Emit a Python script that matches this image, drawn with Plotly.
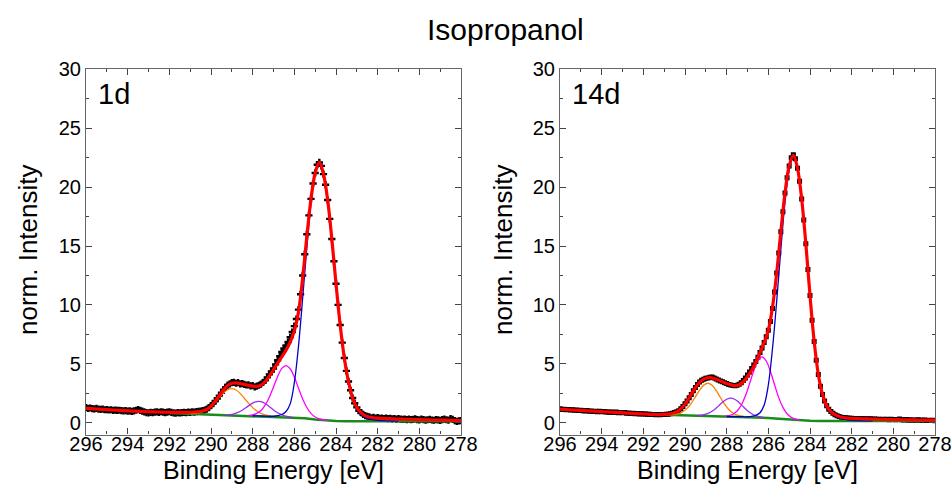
import plotly.graph_objects as go

# ---------------- data ----------------
energy_start = 296.0
energy_step = 0.1
fit_step = 0.2

data_1d = [
    1.28, 1.22, 1.25, 1.20, 1.18, 1.22, 1.15, 1.13, 1.16, 1.10,
    1.12, 1.08, 1.10, 1.05, 1.07, 1.04, 1.06, 1.02, 1.00, 1.03,
    0.98, 1.01, 0.97, 1.00, 1.06, 1.12, 1.05, 0.98, 0.92, 0.86,
    0.84, 0.88, 0.85, 0.90, 0.92, 0.87, 0.93, 0.90, 0.86, 0.90,
    0.93, 0.88, 0.84, 0.82, 0.86, 0.83, 0.85, 0.88, 0.86, 0.90,
    0.88, 0.92, 0.90, 0.94, 0.97, 0.99, 1.02, 1.08, 1.15, 1.28,
    1.45, 1.62, 1.85, 2.05, 2.30, 2.55, 2.80, 3.00, 3.20, 3.30,
    3.40, 3.42, 3.35, 3.40, 3.30, 3.32, 3.25, 3.20, 3.22, 3.12,
    3.15, 3.05, 3.10, 3.18, 3.28, 3.42, 3.60, 3.85, 4.10, 4.35,
    4.60, 4.95, 5.30, 5.65, 6.00, 6.30, 6.55, 6.85, 7.25, 7.70,
    8.20, 8.80, 9.60, 10.9, 12.5, 14.3, 16.0, 17.6, 19.0, 20.3,
    21.2, 21.9, 22.1, 21.8, 21.1, 20.2, 18.9, 17.3, 15.6, 13.7,
    11.8, 10.0, 8.3, 6.8, 5.5, 4.4, 3.5, 2.75, 2.1, 1.65,
    1.30, 1.02, 0.85, 0.70, 0.60, 0.55, 0.50, 0.42, 0.45, 0.40,
    0.43, 0.38, 0.40, 0.36, 0.39, 0.35, 0.37, 0.33, 0.36, 0.30,
    0.34, 0.31, 0.28, 0.30, 0.27, 0.31, 0.26, 0.29, 0.32, 0.27,
    0.24, 0.30, 0.26, 0.22, 0.25, 0.28, 0.23, 0.21, 0.26, 0.24,
    0.20, 0.27, 0.30, 0.25, 0.22, 0.35, 0.28, 0.18, 0.12, 0.15,
    0.18,
]

fit_1d = [
    1.22, 1.20, 1.18, 1.15, 1.13, 1.11, 1.09, 1.07, 1.05, 1.03,
    1.01, 0.99, 0.98, 0.96, 0.94, 0.93, 0.92, 0.91, 0.90, 0.89,
    0.89, 0.88, 0.88, 0.88, 0.88, 0.89, 0.91, 0.94, 1.00, 1.12,
    1.40, 1.82, 2.30, 2.78, 3.15, 3.35, 3.38, 3.33, 3.25, 3.17,
    3.10, 3.08, 3.20, 3.50, 3.95, 4.50, 5.05, 5.60, 6.15, 6.85,
    7.80, 9.40, 12.3, 15.8, 19.0, 21.2, 22.1, 21.1, 18.9, 15.6,
    11.8, 8.3, 5.5, 3.5, 2.1, 1.3, 0.85, 0.60, 0.48, 0.42,
    0.39, 0.37, 0.35, 0.34, 0.32, 0.31, 0.30, 0.29, 0.28, 0.27,
    0.26, 0.25, 0.24, 0.23, 0.23, 0.22, 0.22, 0.21, 0.20, 0.19,
    0.18,
]

orange_1d_start = 291.0
orange_1d = [0.77, 0.79, 0.84, 0.94, 1.12, 1.38, 1.74, 2.14, 2.52, 2.80, 2.89,
             2.78, 2.48, 2.08, 1.66, 1.28, 0.99, 0.78, 0.66, 0.58, 0.54]
violet_1d_start = 289.3
violet_1d = [0.67, 0.69, 0.75, 0.87, 1.06, 1.30, 1.56, 1.75, 1.82, 1.73, 1.51,
             1.22, 0.95, 0.75, 0.60, 0.51, 0.46]
magenta_1d_start = 288.2
magenta_1d = [0.63, 0.67, 0.79, 1.04, 1.49, 2.16, 3.04, 3.93, 4.61, 4.85, 4.58,
              3.87, 2.93, 2.01, 1.29, 0.79, 0.49, 0.33, 0.25, 0.19]
blue_1d_start = 288.0
blue_1d = [0.59, 0.58, 0.57, 0.56, 0.55, 0.55, 0.60, 0.70, 0.95, 1.6, 3.4, 6.5,
           10.6, 14.8, 18.6, 21.1, 22.0, 20.9, 18.7, 15.4, 11.6, 8.1, 5.3, 3.3,
           1.95, 1.15, 0.70, 0.45, 0.32, 0.24, 0.20, 0.18, 0.16, 0.15, 0.14, 0.14]
bg_1d_x = [292.0, 291.0, 290.0, 289.0, 288.0, 287.0, 286.0, 285.5, 285.0, 284.5, 284.0, 283.5, 283.0, 278.0]
bg_1d = [0.82, 0.75, 0.69, 0.64, 0.59, 0.52, 0.44, 0.37, 0.28, 0.20, 0.15, 0.13, 0.13, 0.13]

data_14d = [
    1.18, 1.12, 1.15, 1.10, 1.12, 1.08, 1.10, 1.05, 1.07, 1.03,
    1.06, 1.02, 1.00, 1.03, 0.98, 1.00, 0.96, 0.98, 0.94, 0.97,
    0.93, 0.95, 0.90, 0.92, 0.89, 0.91, 0.87, 0.90, 0.85, 0.87,
    0.84, 0.86, 0.81, 0.83, 0.79, 0.81, 0.77, 0.79, 0.75, 0.77,
    0.73, 0.74, 0.71, 0.72, 0.69, 0.70, 0.67, 0.69, 0.68, 0.70,
    0.69, 0.71, 0.72, 0.76, 0.80, 0.86, 0.93, 1.02, 1.18, 1.38,
    1.60, 1.85, 2.12, 2.40, 2.72, 3.00, 3.25, 3.45, 3.60, 3.68,
    3.78, 3.80, 3.85, 3.88, 3.80, 3.72, 3.62, 3.55, 3.48, 3.40,
    3.33, 3.25, 3.20, 3.15, 3.14, 3.18, 3.26, 3.40, 3.58, 3.80,
    4.05, 4.30, 4.60, 4.90, 5.20, 5.55, 5.95, 6.35, 6.80, 7.30,
    7.85, 8.60, 9.70, 11.1, 12.7, 14.4, 16.2, 17.9, 19.5, 20.8,
    21.8, 22.5, 22.75, 22.4, 21.6, 20.5, 19.0, 17.2, 15.2, 13.0,
    10.8, 8.7, 6.9, 5.3, 4.1, 3.1, 2.4, 1.85, 1.45, 1.15,
    0.95, 0.80, 0.68, 0.60, 0.52, 0.47, 0.44, 0.42, 0.40, 0.38,
    0.37, 0.36, 0.34, 0.36, 0.33, 0.35, 0.32, 0.34, 0.31, 0.33,
    0.30, 0.32, 0.29, 0.30, 0.28, 0.30, 0.27, 0.29, 0.26, 0.30,
    0.27, 0.25, 0.28, 0.31, 0.26, 0.24, 0.27, 0.22, 0.25, 0.20,
    0.23, 0.21, 0.25, 0.22, 0.20, 0.23, 0.19, 0.21, 0.18, 0.20,
    0.17,
]

fit_14d = [
    1.15, 1.13, 1.10, 1.08, 1.06, 1.04, 1.02, 1.00, 0.98, 0.96,
    0.94, 0.92, 0.90, 0.88, 0.86, 0.84, 0.82, 0.80, 0.78, 0.76,
    0.74, 0.72, 0.70, 0.69, 0.69, 0.70, 0.73, 0.80, 0.92, 1.17,
    1.58, 2.12, 2.70, 3.22, 3.58, 3.77, 3.82, 3.76, 3.62, 3.47,
    3.32, 3.21, 3.15, 3.23, 3.48, 3.92, 4.45, 5.15, 5.95, 6.80,
    7.85, 9.80, 12.7, 16.2, 19.5, 21.8, 22.7, 21.6, 19.0, 15.2,
    10.8, 6.9, 4.1, 2.4, 1.45, 0.95, 0.68, 0.52, 0.44, 0.40,
    0.37, 0.35, 0.34, 0.33, 0.32, 0.31, 0.30, 0.29, 0.28, 0.27,
    0.26, 0.26, 0.25, 0.25, 0.24, 0.24, 0.23, 0.23, 0.22, 0.22,
    0.22,
]

orange_14d_start = 290.7
orange_14d = [0.69, 0.71, 0.78, 0.94, 1.22, 1.65, 2.20, 2.76, 3.19, 3.35, 3.17,
              2.72, 2.14, 1.57, 1.12, 0.82, 0.64, 0.55, 0.50]
violet_14d_start = 289.4
violet_14d = [0.62, 0.65, 0.73, 0.87, 1.10, 1.41, 1.74, 1.99, 2.08, 1.97, 1.70,
              1.35, 1.02, 0.76, 0.60, 0.49, 0.44]
magenta_14d_start = 288.1
magenta_14d = [0.56, 0.60, 0.72, 0.99, 1.48, 2.28, 3.32, 4.42, 5.27, 5.59, 5.24,
               4.35, 3.22, 2.13, 1.30, 0.76, 0.45, 0.31, 0.22]
blue_14d_start = 288.0
blue_14d = [0.53, 0.52, 0.52, 0.51, 0.51, 0.50, 0.54, 0.62, 0.85, 1.5, 3.2, 6.3,
            10.3, 14.7, 18.7, 21.4, 22.6, 21.5, 18.9, 15.1, 10.7, 6.8, 4.0, 2.3,
            1.35, 0.85, 0.58, 0.40, 0.30, 0.24, 0.20, 0.18, 0.17, 0.16, 0.15, 0.15]
bg_14d_x = [291.4, 291.0, 290.0, 289.0, 288.0, 287.0, 286.0, 285.5, 285.0, 284.5, 284.0, 283.5, 283.0, 278.0]
bg_14d = [0.70, 0.68, 0.63, 0.58, 0.53, 0.48, 0.40, 0.34, 0.26, 0.20, 0.16, 0.14, 0.14, 0.14]

x_ticks = [296, 294, 292, 290, 288, 286, 284, 282, 280, 278]
y_ticks = [0, 5, 10, 15, 20, 25, 30]
panel_labels = ["1d", "14d"]
title_text = "Isopropanol"
x_title = "Binding Energy [eV]"
y_title = "norm. Intensity"


def grid(start, n, step):
    return [round(start - i * step, 2) for i in range(n)]


# ---------------- figure ----------------
W, H = 952, 491
FONT = "Arial, Liberation Sans, sans-serif"
fig = go.Figure()

panels = [
    dict(data=data_1d, fit=fit_1d,
         comps=[(orange_1d_start, orange_1d, "#ff8000"),
                (violet_1d_start, violet_1d, "#9a2cf0"),
                (magenta_1d_start, magenta_1d, "#ff00ff"),
                (blue_1d_start, blue_1d, "#0000c8")],
         bgx=bg_1d_x, bg=bg_1d, symbol="cross", msize=6, xa="x", ya="y"),
    dict(data=data_14d, fit=fit_14d,
         comps=[(orange_14d_start, orange_14d, "#ff8000"),
                (violet_14d_start, violet_14d, "#9a2cf0"),
                (magenta_14d_start, magenta_14d, "#ff00ff"),
                (blue_14d_start, blue_14d, "#0000c8")],
         bgx=bg_14d_x, bg=bg_14d, symbol="square", msize=5, xa="x2", ya="y2"),
]

for p in panels:
    xs = grid(energy_start, len(p["data"]), energy_step)
    fig.add_trace(go.Scatter(x=xs, y=p["data"], mode="markers", xaxis=p["xa"], yaxis=p["ya"],
                             marker=dict(symbol=p["symbol"], size=p["msize"], color="black"),
                             showlegend=False))
    fig.add_trace(go.Scatter(x=p["bgx"], y=p["bg"], mode="lines", xaxis=p["xa"], yaxis=p["ya"],
                             line=dict(color="#1a8a1a", width=2.5), showlegend=False))
    for start, vals, col in p["comps"]:
        fig.add_trace(go.Scatter(x=grid(start, len(vals), fit_step), y=vals, mode="lines",
                                 xaxis=p["xa"], yaxis=p["ya"],
                                 line=dict(color=col, width=1.3, shape="spline", smoothing=1.0),
                                 showlegend=False))
    fig.add_trace(go.Scatter(x=grid(energy_start, len(p["fit"]), fit_step), y=p["fit"], mode="lines",
                             xaxis=p["xa"], yaxis=p["ya"],
                             line=dict(color="#ff0000", width=3.2, shape="spline", smoothing=1.0),
                             showlegend=False))


def px(xs):
    return xs / W


def py(ys):
    return (H - ys) / H


left_dom = [px(86), px(461)]
right_dom = [px(560), px(935)]
ydom = [py(434.5), py(69.3)]

xax = dict(range=[296, 278], tickvals=x_ticks, ticks="inside", ticklen=6, tickwidth=1,
           tickcolor="#444", minor=dict(dtick=1, tick0=0, ticks="inside", ticklen=3, tickcolor="#444"),
           showline=True, linecolor="#666", linewidth=1.2, mirror="ticks", showgrid=False,
           zeroline=False, automargin=False, ticklabelstandoff=-9,
           tickfont=dict(family=FONT, size=20, color="black"))
yax = dict(range=[-1, 30], tickvals=y_ticks, ticks="inside", ticklen=6, tickwidth=1,
           tickcolor="#444", minor=dict(dtick=2.5, tick0=0, ticks="inside", ticklen=3, tickcolor="#444"),
           showline=True, linecolor="#666", linewidth=1.2, mirror="ticks", showgrid=False,
           zeroline=False, automargin=False,
           tickfont=dict(family=FONT, size=20, color="black"), domain=ydom)

fig.update_layout(
    width=W, height=H, margin=dict(l=0, r=0, t=0, b=0, pad=0),
    paper_bgcolor="white", plot_bgcolor="white",
    xaxis=dict(xax, domain=left_dom, anchor="y"),
    yaxis=dict(yax, anchor="x"),
    xaxis2=dict(xax, domain=right_dom, anchor="y2"),
    yaxis2=dict(yax, anchor="x2"),
)

ann = []
ann.append(dict(text=title_text, x=px(505), y=py(30), xref="paper", yref="paper",
                xanchor="center", yanchor="middle",
                showarrow=False, font=dict(family=FONT, size=30, color="black")))
for fl, fr, lab, ylx in [(86, 461, panel_labels[0], 28), (560, 935, panel_labels[1], 503)]:
    ann.append(dict(text=x_title, x=px((fl + fr) / 2), y=py(470), xref="paper", yref="paper",
                    xanchor="center", yanchor="middle",
                    showarrow=False, font=dict(family=FONT, size=25, color="black")))
    ann.append(dict(text=y_title, x=px(ylx), y=py(250), xref="paper", yref="paper",
                    xanchor="center", yanchor="middle",
                    textangle=-90, showarrow=False, font=dict(family=FONT, size=26, color="black")))
    ann.append(dict(text=lab, x=px(fl + 10), y=py(76), xref="paper", yref="paper",
                    xanchor="left", yanchor="top", showarrow=False,
                    font=dict(family=FONT, size=29, color="black")))
fig.update_layout(annotations=ann)

# remove the page's default body margin / scrollbars so the figure fills the window
page_css = ("document.documentElement.style.margin='0';"
            "document.body.style.margin='0';"
            "document.documentElement.style.overflow='hidden';"
            "document.body.style.overflow='hidden';")
fig.write_html("out.html", post_script=page_css, config={"displayModeBar": False})
